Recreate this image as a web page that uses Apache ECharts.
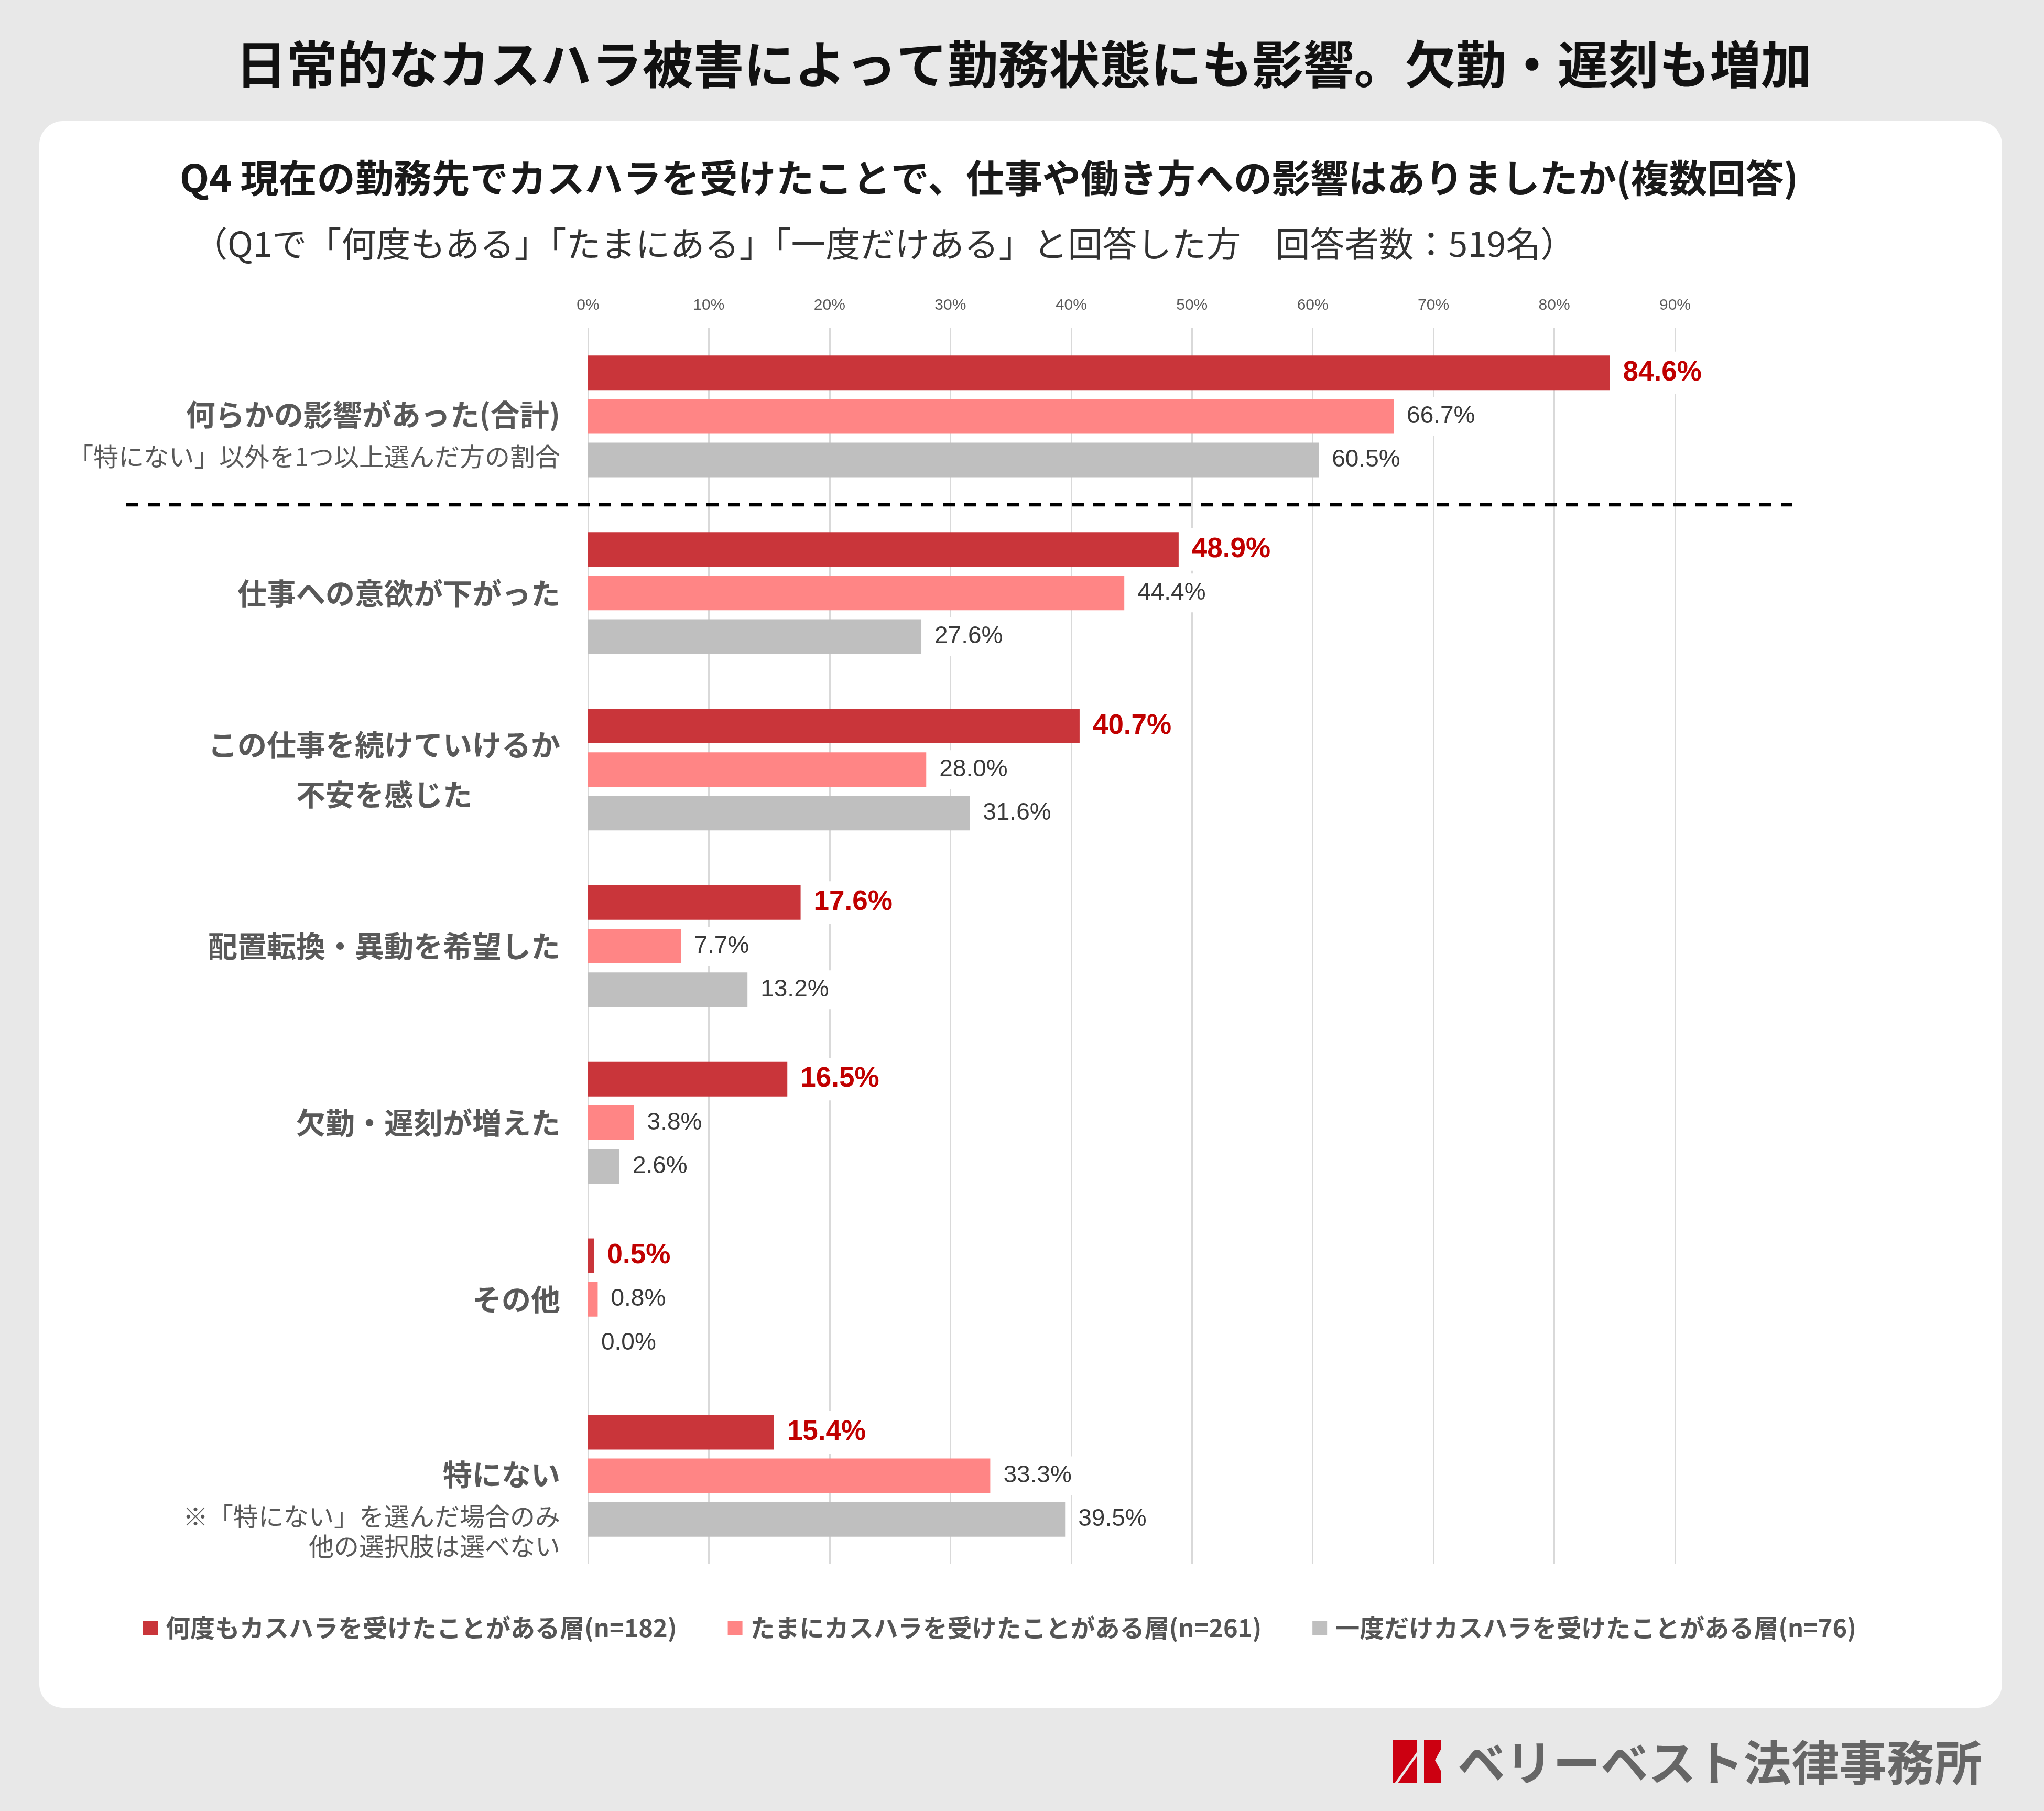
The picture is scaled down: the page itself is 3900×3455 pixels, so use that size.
<!DOCTYPE html>
<html>
<head>
<meta charset="utf-8">
<script src="https://cdn.jsdelivr.net/npm/echarts@6/dist/echarts.min.js"></script>
<style>
  html, body { margin: 0; padding: 0; background: #e8e8e8; }
  #main { width: 3900px; height: 3455px; }
</style>
</head>
<body>
<div id="main"></div>
<script>
// 項目（上から順）
const categories = [
    '何らかの影響があった(合計)',
    '仕事への意欲が下がった',
    'この仕事を続けていけるか\n不安を感じた',
    '配置転換・異動を希望した',
    '欠勤・遅刻が増えた',
    'その他',
    '特にない'
];
const categoryNotes = [
    '「特にない」以外を1つ以上選んだ方の割合',
    '', '', '', '', '',
    '※「特にない」を選んだ場合のみ\n他の選択肢は選べない'
];
const seriesNames = [
    '何度もカスハラを受けたことがある層(n=182)',
    'たまにカスハラを受けたことがある層(n=261)',
    '一度だけカスハラを受けたことがある層(n=76)'
];
const oftenValues = [84.6, 48.9, 40.7, 17.6, 16.5, 0.5, 15.4];
const sometimesValues = [66.7, 44.4, 28.0, 7.7, 3.8, 0.8, 33.3];
const onceValues = [60.5, 27.6, 31.6, 13.2, 2.6, 0.0, 39.5];
const xTicks = [0, 10, 20, 30, 40, 50, 60, 70, 80, 90];

const JP = '"Noto Sans CJK JP", "Noto Sans", sans-serif';
const NUM = '"Liberation Sans", Arial, "Noto Sans CJK JP", sans-serif';

const chart = echarts.init(document.getElementById('main'));

function catLabel(value, index) {
    const note = categoryNotes[index];
    if (note) {
        const k = index === 0 ? '1' : '7';
        const lines = note.split('\n').map(t => '{s' + k + '|' + t + '}');
        return '{g' + k + '| }\n{m' + k + '|' + value + '}\n' + lines.join('\n');
    }
    if (value.indexOf('\n') >= 0) {
        return value.split('\n').map(t => '{c|' + t + '}').join('\n');
    }
    return '{m|' + value + '}';
}

function makeSeries(name, values, color, strong) {
    return {
        name: name,
        type: 'bar',
        data: values,
        barWidth: 66,
        barGap: '26%',
        itemStyle: { color: color },
        label: {
            show: true,
            position: 'right',
            distance: 19,
            formatter: p => p.value.toFixed(1) + '%',
            fontFamily: NUM,
            fontSize: strong ? 53 : 46,
            fontWeight: strong ? 'bold' : 'normal',
            color: strong ? '#C00000' : '#3a3a3a',
            backgroundColor: '#ffffff',
            padding: [14, 6, 14, 6]
        }
    };
}

function baseGraphics(lineY) {
    const g = [
        { type: 'rect', id: 'card', z: -10, shape: { x: 75, y: 231, width: 3745, height: 3027, r: 45 }, style: { fill: '#ffffff' } },
        { type: 'text', id: 't1', style: { text: '日常的なカスハラ被害によって勤務状態にも影響。欠勤・遅刻も増加', x: 1953, y: 122, align: 'center', verticalAlign: 'middle', fontFamily: JP, fontSize: 97, fontWeight: 'bold', fill: '#111111' } },
        { type: 'text', id: 't2', style: { text: 'Q4 現在の勤務先でカスハラを受けたことで、仕事や働き方への影響はありましたか(複数回答)', x: 343, y: 339, align: 'left', verticalAlign: 'middle', fontFamily: JP, fontSize: 73, fontWeight: 'bold', fill: '#1a1a1a' } },
        { type: 'text', id: 't3', style: { text: '（Q1で「何度もある」「たまにある」「一度だけある」と回答した方　回答者数：519名）', x: 368, y: 465, align: 'left', verticalAlign: 'middle', fontFamily: JP, fontSize: 66, fill: '#333333' } },
        // ロゴ
        { type: 'polygon', id: 'lg1', shape: { points: [[2658, 3320], [2703, 3320], [2703, 3343], [2661, 3402], [2658, 3402]] }, style: { fill: '#CC0011' } },
        { type: 'polygon', id: 'lg2', shape: { points: [[2703, 3351], [2703, 3402], [2667, 3402]] }, style: { fill: '#CC0011' } },
        { type: 'polygon', id: 'lg3', shape: { points: [[2717, 3320], [2749, 3320], [2749, 3338], [2738, 3358], [2749, 3378], [2749, 3402], [2717, 3402]] }, style: { fill: '#CC0011' } },
        { type: 'text', id: 'lgt', style: { text: 'ベリーベスト法律事務所', x: 2781, y: 3362, align: 'left', verticalAlign: 'middle', fontFamily: JP, fontSize: 91, fontWeight: 'bold', fill: '#666666' } }
    ];
    if (lineY != null) {
        g.push({ type: 'line', id: 'sep', z: 10, shape: { x1: 241, y1: lineY, x2: 3420, y2: lineY }, style: { stroke: '#000000', lineWidth: 7, lineDash: [23, 18] } });
    }
    return g;
}

const option = {
    backgroundColor: '#e8e8e8',
    animation: false,
    grid: { left: 1122, right: 704, top: 626, bottom: 471, containLabel: false },
    legend: {
        data: seriesNames,
        left: 273,
        top: 3082,
        padding: 0,
        icon: 'rect',
        itemWidth: 28,
        itemHeight: 27,
        itemGap: 97,
        textStyle: { fontFamily: JP, fontSize: 47, fontWeight: 'bold', color: '#555555', padding: [0, 0, 0, 10] }
    },
    xAxis: {
        type: 'value',
        position: 'top',
        min: xTicks[0],
        max: xTicks[xTicks.length - 1],
        interval: 10,
        axisLine: { show: false },
        axisTick: { show: false },
        axisLabel: { formatter: '{value}%', fontFamily: NUM, fontSize: 30, color: '#595959', margin: 28 },
        splitLine: { show: true, lineStyle: { color: '#d9d9d9', width: 3 } }
    },
    yAxis: {
        type: 'category',
        inverse: true,
        data: categories,
        axisLine: { show: false },
        axisTick: { show: false },
        axisLabel: {
            margin: 53,
            formatter: catLabel,
            rich: {
                m: { fontFamily: JP, fontSize: 56, fontWeight: 'bold', color: '#595959' },
                c: { fontFamily: JP, fontSize: 56, fontWeight: 'bold', color: '#595959', lineHeight: 95, align: 'center' },
                g1: { fontSize: 1, lineHeight: 73 },
                m1: { fontFamily: JP, fontSize: 56, fontWeight: 'bold', color: '#595959', lineHeight: 80 },
                s1: { fontFamily: JP, fontSize: 48, color: '#595959', lineHeight: 80 },
                g7: { fontSize: 1, lineHeight: 108 },
                m7: { fontFamily: JP, fontSize: 56, fontWeight: 'bold', color: '#595959', lineHeight: 103 },
                s7: { fontFamily: JP, fontSize: 48, color: '#595959', lineHeight: 57 }
            }
        }
    },
    series: [
        makeSeries(seriesNames[0], oftenValues, '#C9353A', true),
        makeSeries(seriesNames[1], sometimesValues, '#FF8585', false),
        makeSeries(seriesNames[2], onceValues, '#BFBFBF', false)
    ],
    graphic: baseGraphics(null)
};

chart.setOption(option);

// 合計と各項目の間の点線
const y0 = chart.convertToPixel({ yAxisIndex: 0 }, categories[0]);
const y1 = chart.convertToPixel({ yAxisIndex: 0 }, categories[1]);
chart.setOption({ graphic: baseGraphics((y0 + y1) / 2) });
</script>
</body>
</html>
